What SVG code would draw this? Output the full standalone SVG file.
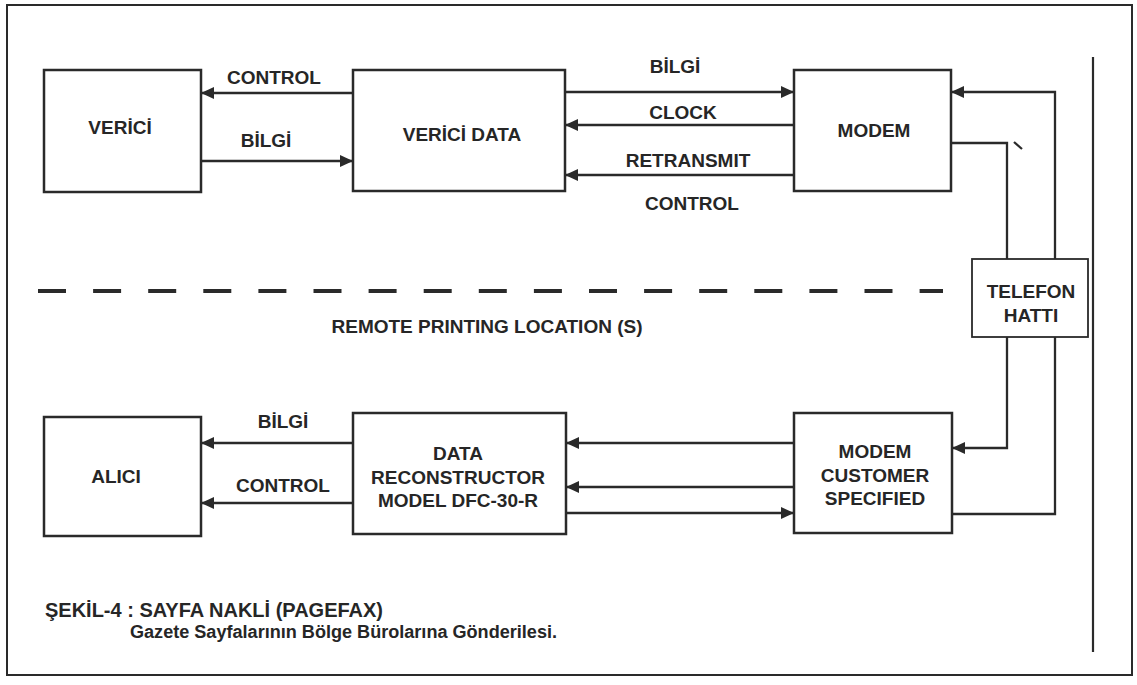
<svg xmlns="http://www.w3.org/2000/svg" width="1137" height="685" viewBox="0 0 1137 685">
<style>
.box{fill:#fff;stroke:#2a2a2a;stroke-width:2.5}
.ln{fill:none;stroke:#2a2a2a;stroke-width:2.3}
.t{font-family:"Liberation Sans",Arial,sans-serif;font-weight:bold;font-size:19px;fill:#262626;text-anchor:middle}
.c{font-family:"Liberation Sans",Arial,sans-serif;font-weight:bold;font-size:18px;fill:#262626}
</style>
<defs>
<marker id="ah" markerUnits="userSpaceOnUse" markerWidth="14" markerHeight="12" refX="13" refY="6" orient="auto">
<path d="M0,0 L13,6 L0,12 Z" fill="#2a2a2a"/>
</marker>
</defs>
<rect x="0" y="0" width="1137" height="685" fill="#fff"/>
<rect x="7" y="5" width="1125" height="670" fill="none" stroke="#2a2a2a" stroke-width="2"/>
<line x1="1093" y1="57" x2="1093" y2="652" stroke="#2a2a2a" stroke-width="2.2"/>
<line x1="38" y1="291" x2="943" y2="291" stroke="#2a2a2a" stroke-width="4" stroke-dasharray="28 27.1"/>
<text class="t" x="487" y="333">REMOTE PRINTING LOCATION (S)</text>

<g id="connectors">
<path class="ln" d="M353,93 L201,93" marker-end="url(#ah)"/>
<path class="ln" d="M201,161 L353,161" marker-end="url(#ah)"/>
<path class="ln" d="M565,92 L794,92" marker-end="url(#ah)"/>
<path class="ln" d="M794,125 L565,125" marker-end="url(#ah)"/>
<path class="ln" d="M794,175 L565,175" marker-end="url(#ah)"/>
<path class="ln" d="M1055,259 L1055,92 L951,92" marker-end="url(#ah)"/>
<path class="ln" d="M951,143 L1007,143 L1007,259"/>
<path class="ln" d="M1014,142 L1022,149" stroke-width="2"/>
<path class="ln" d="M1007,337 L1007,448 L952,448" marker-end="url(#ah)"/>
<path class="ln" d="M952,514 L1055,514 L1055,337"/>
<path class="ln" d="M794,443 L566,443" marker-end="url(#ah)"/>
<path class="ln" d="M794,487 L566,487" marker-end="url(#ah)"/>
<path class="ln" d="M566,513 L794,513" marker-end="url(#ah)"/>
<path class="ln" d="M353,443 L201,443" marker-end="url(#ah)"/>
<path class="ln" d="M353,503 L201,503" marker-end="url(#ah)"/>
<text class="t" x="274" y="84">CONTROL</text>
<text class="t" x="266" y="147">BİLGİ</text>
<text class="t" x="675" y="73">BİLGİ</text>
<text class="t" x="683" y="119">CLOCK</text>
<text class="t" x="688" y="167">RETRANSMIT</text>
<text class="t" x="692" y="210">CONTROL</text>
<text class="t" x="283" y="428">BİLGİ</text>
<text class="t" x="283" y="492">CONTROL</text>
</g>

<g id="verici">
<rect class="box" x="44" y="70" width="157" height="122"/>
<text class="t" x="120" y="134">VERİCİ</text>
</g>
<g id="verici-data">
<rect class="box" x="353" y="70" width="212" height="121"/>
<text class="t" x="462" y="141">VERİCİ DATA</text>
</g>
<g id="modem">
<rect class="box" x="794" y="70" width="157" height="121"/>
<text class="t" x="874" y="137">MODEM</text>
</g>
<g id="telefon-hatti">
<rect x="972" y="259" width="116" height="78" fill="#fff" stroke="#2a2a2a" stroke-width="1.8"/>
<text class="t" x="1031" y="298">TELEFON</text>
<text class="t" x="1031" y="322">HATTI</text>
</g>
<g id="alici">
<rect class="box" x="44" y="417" width="157" height="119"/>
<text class="t" x="116" y="483">ALICI</text>
</g>
<g id="data-reconstructor">
<rect class="box" x="353" y="413" width="213" height="121"/>
<text class="t" x="458" y="460">DATA</text>
<text class="t" x="458" y="484">RECONSTRUCTOR</text>
<text class="t" x="458" y="507">MODEL DFC-30-R</text>
</g>
<g id="modem-customer">
<rect class="box" x="794" y="413" width="158" height="120"/>
<text class="t" x="875" y="458">MODEM</text>
<text class="t" x="875" y="482">CUSTOMER</text>
<text class="t" x="875" y="505">SPECIFIED</text>
</g>

<text class="c" x="45" y="617" style="font-size:19.5px" textLength="338" lengthAdjust="spacingAndGlyphs">ŞEKİL-4 : SAYFA NAKLİ (PAGEFAX)</text>
<text class="c" x="130" y="638" textLength="427" lengthAdjust="spacingAndGlyphs">Gazete Sayfalarının Bölge Bürolarına Gönderilesi.</text>
</svg>
